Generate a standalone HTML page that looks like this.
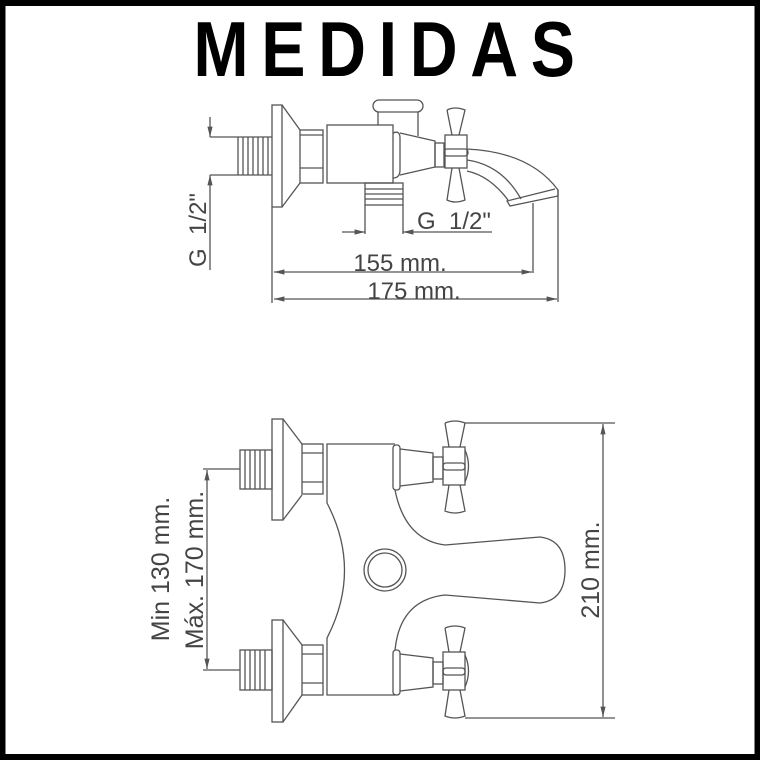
<!DOCTYPE html>
<html><head><meta charset="utf-8"><style>
html,body{margin:0;padding:0;background:#fff}
svg{display:block}
</style></head><body>
<svg width="760" height="760" viewBox="0 0 760 760" xmlns="http://www.w3.org/2000/svg">
<rect x="2.5" y="3" width="755" height="754" fill="#fff" stroke="#000" stroke-width="6"/>
<g transform="scale(0.85,1)">
<text x="452" y="76" font-family="Liberation Sans, sans-serif" font-size="78" font-weight="bold" text-anchor="middle" textLength="449" lengthAdjust="spacing" fill="#000">MEDIDAS</text>
</g>
<defs>
<marker id="a" viewBox="0 0 10 10" refX="10" refY="5" markerWidth="8" markerHeight="8" orient="auto-start-reverse"><path d="M0,2.5 L10,5 L0,7.5" fill="#555"/></marker>
</defs>
<g fill="none" stroke="#555" stroke-width="1.3">
<!-- TOP VIEW -->
<rect x="272" y="105" width="10" height="102"/>
<path d="M282,105 L300,130 M300,183 L282,207"/>
<rect x="300" y="130" width="23" height="53"/>
<path d="M300,135 H323 M300,168 H323"/>
<path d="M210,137 H272 M210,175 H272"/>
<path d="M238,137V175M243,137V175M248,137V175M253,137V175M258,137V175M263,137V175M268,137V175"/>
<rect x="327" y="125" width="66" height="58"/>
<rect x="373" y="100" width="50" height="12" rx="6"/>
<path d="M378,112 V125 M418,112 V136"/>
<path d="M393,133 Q400,130 400,138 V170 Q400,178 393,178"/>
<path d="M400,133 L435,141 V167 L400,175"/>
<rect x="435" y="143" width="9" height="24"/>
<path d="M447,110 Q455,106 465,110 L459,135 M447,110 L452,135 M452,168 L447,200 Q455,204 465,200 L459,168"/>
<rect x="445" y="135" width="22" height="33"/>
<rect x="444" y="149" width="24" height="7" rx="3"/>
<path d="M467,149 Q530,152 558,190 V196 L510,206 L507,201 L555,189"/>
<path d="M467,160 Q502,165 521,199"/>
<path d="M467,171 Q490,176 508,200"/>
<rect x="365" y="183" width="38" height="22"/>
<path d="M365,189 H403 M365,194 H403 M365,199 H403"/>
<!-- dims top -->
<path d="M365,205 V234 M403,205 V234 M558,190 V302 M533,203 V273 M272,207 V303"/>
<path d="M342,232 H365" marker-end="url(#a)"/>
<path d="M492,232 H403" marker-end="url(#a)"/>
<path d="M210,117 V137" marker-end="url(#a)"/>
<path d="M210,270 V175" marker-end="url(#a)"/>
<path d="M274,272 H532" marker-start="url(#a)" marker-end="url(#a)"/>
<path d="M274,299 H557" marker-start="url(#a)" marker-end="url(#a)"/>
<!-- BOTTOM VIEW -->
<rect x="272" y="419" width="11" height="101"/>
<path d="M283,419 L302,444 M302,495 L283,520"/>
<rect x="302" y="444" width="21" height="50"/>
<path d="M302,453 H323 M302,482 H323"/>
<rect x="240" y="450" width="32" height="39"/>
<path d="M245,450V489M250,450V489M255,450V489M260,450V489M265,450V489"/>
<rect x="272" y="620" width="11" height="102"/>
<path d="M283,620 L302,645 M302,695 L283,722"/>
<rect x="302" y="645" width="21" height="50"/>
<path d="M302,654 H323 M302,683 H323"/>
<rect x="240" y="650" width="32" height="40"/>
<path d="M245,650V690M250,650V690M255,650V690M260,650V690M265,650V690"/>
<path d="M395,444 H327 V503 Q362,570 327,638 V695 H395"/>
<path d="M395,490 Q405,540 445,545 L540,537 Q565,540 565,570 Q565,600 540,603 L445,595 Q400,600 395,650"/>
<circle cx="385" cy="570" r="21"/>
<circle cx="385" cy="570" r="17"/>
<!-- upper valve -->
<rect x="393" y="445" width="7" height="45" rx="3"/>
<path d="M400,449 L433,453 V482 L400,486"/>
<rect x="433" y="457" width="10" height="22"/>
<path d="M445,423 Q455,419 465,423 L460,447 M445,423 L449,447 M449,485 L445,511 Q455,515 465,511 L460,485"/>
<rect x="443" y="447" width="22" height="38"/>
<rect x="443" y="463" width="22" height="7" rx="3"/>
<path d="M465,450 Q472,466 465,482"/>
<!-- lower valve -->
<rect x="393" y="650" width="7" height="45" rx="3"/>
<path d="M400,654 L433,658 V687 L400,691"/>
<rect x="433" y="662" width="10" height="22"/>
<path d="M445,628 Q455,624 465,628 L460,652 M445,628 L449,652 M449,690 L445,716 Q455,720 465,716 L460,690"/>
<rect x="443" y="652" width="22" height="38"/>
<rect x="443" y="668" width="22" height="7" rx="3"/>
<path d="M465,655 Q472,671 465,687"/>
<!-- bottom dims -->
<path d="M203,469 H240 M203,670 H240 M465,423 H615 M465,718 H615"/>
<path d="M207,470 V669" marker-start="url(#a)" marker-end="url(#a)"/>
<path d="M603,424 V717" marker-start="url(#a)" marker-end="url(#a)"/>
</g>
<g font-family="Liberation Sans, sans-serif" fill="#444" font-size="24">
<text x="417" y="229">G&#160;&#160;1/2"</text>
<text x="400" y="271" text-anchor="middle">155 mm.</text>
<text x="414" y="299" text-anchor="middle">175 mm.</text>
<text transform="translate(206,230) rotate(-90)" text-anchor="middle">G&#160;&#160;1/2"</text>
<text transform="translate(169,569) rotate(-90)" text-anchor="middle" font-size="25">Min 130 mm.</text>
<text transform="translate(203,570) rotate(-90)" text-anchor="middle" font-size="25">Máx. 170 mm.</text>
<text transform="translate(599,570) rotate(-90)" text-anchor="middle" font-size="25">210 mm.</text>
</g>
</svg>
</body></html>
